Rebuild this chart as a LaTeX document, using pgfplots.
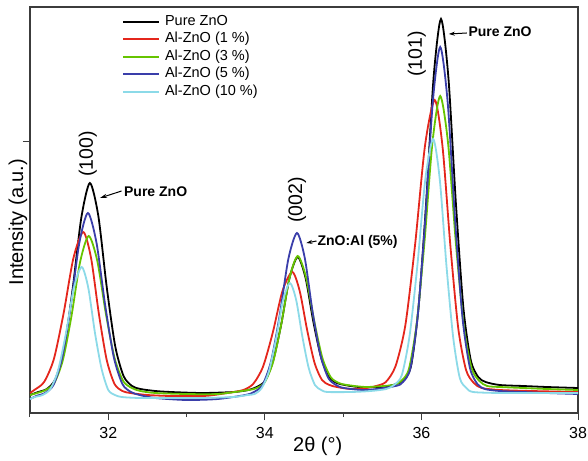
\documentclass[border=0pt]{standalone}
\usepackage{fontspec}
\setmainfont{Liberation Sans}
\usepackage{pgfplots}
\pgfplotsset{compat=1.18}
\usetikzlibrary{arrows.meta}
\definecolor{cRed}{RGB}{228,38,28}
\definecolor{cGreen}{RGB}{102,196,0}
\definecolor{cBlue}{RGB}{58,62,170}
\definecolor{cCyan}{RGB}{140,218,232}
\definecolor{axgray}{RGB}{60,60,60}
\begin{document}
\begin{tikzpicture}
\begin{axis}[
  at={(0,0)}, anchor=south west,
  scale only axis, width=548pt, height=406pt,
  xmin=31, xmax=38, ymin=0, ymax=406,
  xtick={32,34,36,38}, minor xtick={31,33,35,37},
  ytick={271}, yticklabels={},
  xtick pos=left, ytick pos=left,
  tick align=outside, major tick length=7pt, minor tick length=4pt,
  axis line style={axgray, line width=1.3pt},
  tick style={axgray, line width=1pt},
  /pgf/number format/assume math mode=true,
  xticklabel style={font=\fontsize{16}{19}\selectfont, anchor=base, yshift=-18pt},
  xlabel={2θ (°)}, ylabel={Intensity (a.u.)},
  every axis x label/.style={at={(axis description cs:0.525,0)}, anchor=center, yshift=-33pt, font=\fontsize{20}{24}\selectfont},
  every axis y label/.style={at={(axis description cs:-0.022,0.47)}, anchor=center, rotate=90, font=\fontsize{20}{24}\selectfont},
  legend cell align=left,
  legend style={draw=none, fill=none, inner sep=0pt, at={(axis description cs:0.168,0.981)}, anchor=north west,
    font=\fontsize{14.5}{17}\selectfont, row sep=4pt, column sep=5pt,
    nodes={inner sep=0pt, text height=10.5pt, text depth=3pt}},
  legend image code/.code={\draw[#1] (0pt,0pt) -- (36pt,0pt);},
  every axis plot/.append style={line width=1.8pt, smooth, tension=0.45, mark=none},
]
\addplot[black] coordinates {(31.0,18) (31.105,21) (31.215,24) (31.325,34) (31.435,64) (31.545,124) (31.655,195) (31.765,230) (31.873,197) (31.98,126) (32.088,67) (32.195,37) (32.303,27) (32.41,24) (32.6,22) (32.8,21) (33.2,20) (33.6,21) (33.79,23) (33.895,26) (34.0,32) (34.105,52) (34.21,89) (34.315,135) (34.42,156) (34.52,135) (34.62,91) (34.72,55) (34.82,36) (34.92,30) (35.02,28) (35.2,26) (35.5,26) (35.68,29) (35.775,33) (35.87,48) (35.965,107) (36.06,210) (36.155,335) (36.25,394) (36.345,335) (36.44,210) (36.535,106) (36.63,53) (36.725,36) (36.82,31) (37.0,28) (37.3,27) (37.6,26) (38.0,25)};
\addlegendentry{Pure ZnO}
\addplot[cRed] coordinates {(31.0,20) (31.055,23) (31.18,31) (31.305,54) (31.43,100) (31.555,155) (31.68,181) (31.78,155) (31.88,99) (31.98,53) (32.08,29) (32.18,22) (32.28,20) (32.5,18) (32.8,17) (33.2,17) (33.35,18) (33.6,21) (33.725,23) (33.85,29) (33.975,46) (34.1,80) (34.225,122) (34.35,141) (34.445,122) (34.54,83) (34.635,50) (34.73,33) (34.825,28) (34.92,26) (35.1,24) (35.3,25) (35.42,27) (35.545,31) (35.67,47) (35.795,88) (35.92,169) (36.045,267) (36.17,313) (36.27,266) (36.37,167) (36.47,85) (36.57,43) (36.67,30) (36.77,25) (37.0,23) (37.4,22) (38.0,21)};
\addlegendentry{Al-ZnO (1 \%)}
\addplot[cGreen] coordinates {(31.0,18) (31.09,20) (31.2,23) (31.31,30) (31.42,53) (31.53,97) (31.64,151) (31.75,177) (31.86,152) (31.97,99) (32.08,55) (32.19,32) (32.3,25) (32.41,22) (32.6,20) (33.0,19) (33.4,19) (33.79,23) (33.895,25) (34.0,31) (34.105,51) (34.21,89) (34.315,135) (34.42,157) (34.525,136) (34.63,92) (34.735,55) (34.84,36) (34.945,30) (35.05,28) (35.3,26) (35.64,28) (35.74,32) (35.84,44) (35.94,90) (36.04,172) (36.14,270) (36.24,317) (36.34,270) (36.44,170) (36.54,88) (36.64,45) (36.74,32) (36.84,27) (37.0,26) (37.3,25) (37.6,24) (38.0,23)};
\addlegendentry{Al-ZnO (3 \%)}
\addplot[cBlue] coordinates {(31.0,14) (31.08,17) (31.19,20) (31.3,28) (31.41,55) (31.52,107) (31.63,170) (31.74,200) (31.85,170) (31.96,108) (32.07,56) (32.18,29) (32.29,21) (32.4,18) (32.6,15) (33.0,13) (33.4,14) (33.75,18) (33.86,21) (33.97,28) (34.08,52) (34.19,98) (34.3,154) (34.41,180) (34.51,155) (34.61,101) (34.71,58) (34.81,35) (34.91,28) (35.01,25) (35.3,23) (35.67,27) (35.765,31) (35.86,45) (35.955,99) (36.05,195) (36.145,311) (36.24,366) (36.335,311) (36.43,193) (36.525,95) (36.62,45) (36.715,29) (36.81,24) (37.0,22) (37.3,21) (37.6,20) (38.0,19)};
\addlegendentry{Al-ZnO (5 \%)}
\addplot[cCyan] coordinates {(31.0,14) (31.06,16) (31.16,18) (31.26,24) (31.36,43) (31.46,80) (31.56,125) (31.66,146) (31.745,125) (31.83,80) (31.915,44) (32.0,23) (32.085,18) (32.17,16) (32.4,15) (32.8,15) (33.2,15) (33.6,16) (33.78,18) (33.87,19) (33.96,25) (34.05,41) (34.14,73) (34.23,112) (34.32,130) (34.4,113) (34.48,76) (34.56,45) (34.64,28) (34.72,23) (34.8,21) (35.1,21) (35.35,22) (35.55,24) (35.65,28) (35.75,38) (35.85,78) (35.95,149) (36.05,234) (36.15,274) (36.235,233) (36.32,147) (36.405,76) (36.49,35) (36.575,25) (36.66,21) (37.0,20) (37.5,20) (38.0,20)};
\addlegendentry{Al-ZnO (10 \%)}
\node[rotate=90, font=\fontsize{19.5}{22}\selectfont] at (axis cs:31.74,259) {(100)};
\node[rotate=90, font=\fontsize{19.5}{22}\selectfont] at (axis cs:34.41,213) {(002)};
\node[rotate=90, font=\fontsize{19.5}{22}\selectfont] at (axis cs:35.94,359) {(101)};
\node[anchor=west, font=\bfseries\fontsize{14}{17}\selectfont, inner sep=0pt] at (axis cs:32.2,221) {Pure ZnO};
\node[anchor=west, font=\bfseries\fontsize{14}{17}\selectfont, inner sep=0pt] at (axis cs:34.67,171) {ZnO:Al (5\%)};
\node[anchor=west, font=\bfseries\fontsize{14}{17}\selectfont, inner sep=0pt] at (axis cs:36.6,381) {Pure ZnO};
\draw[-{Stealth[length=7pt,width=4pt]}, line width=1pt] (axis cs:32.17,222) -- (axis cs:31.893,215);
\draw[-{Stealth[length=6pt,width=4pt]}, line width=1pt] (axis cs:34.66,172) -- (axis cs:34.53,170);
\draw[-{Stealth[length=6pt,width=4pt]}, line width=1pt] (axis cs:36.58,380) -- (axis cs:36.35,379);
\end{axis}
\pgfresetboundingbox
\useasboundingbox (-30pt,-47pt) rectangle (558pt,413pt);
\end{tikzpicture}
\end{document}
